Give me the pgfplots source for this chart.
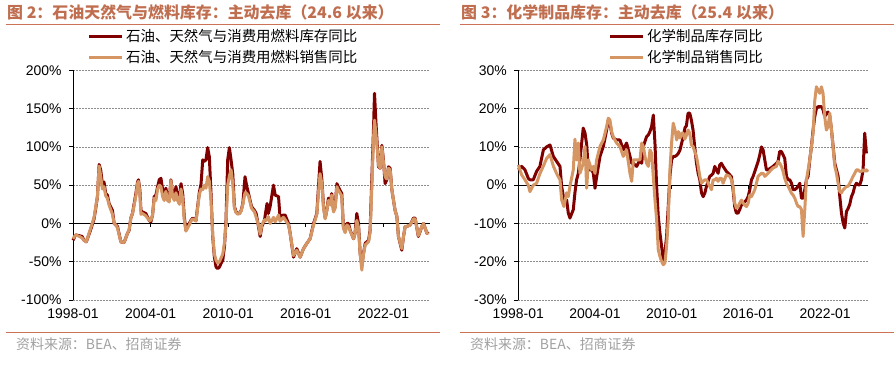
\documentclass[border=0pt]{standalone}
\usepackage{pgfplots}
\pgfplotsset{compat=1.18}
\usepackage{fontspec}
\setmainfont{Liberation Sans}
\newfontfamily\cjk{Noto Sans CJK SC}
\definecolor{darkred}{RGB}{128,0,0}
\definecolor{tanc}{RGB}{214,150,100}
\definecolor{titlec}{RGB}{192,110,80}
\definecolor{rulec}{RGB}{205,115,85}
\definecolor{srcgray}{RGB}{160,160,160}
\definecolor{gridc}{RGB}{140,140,140}

\pgfplotstableread{
x y
1998.0 -22
1998.2 -15
1998.5 -16
1998.7 -17
1998.85 -22
1999.03 -24
1999.37 -8
1999.63 6
1999.76 20
1999.89 35
2000.02 77
2000.14 70
2000.27 52
2000.40 54
2000.53 39
2000.66 37
2000.79 26
2001.05 17
2001.18 0
2001.31 -2
2001.44 -4
2001.70 -24
2001.95 -25
2002.21 -13
2002.34 -9
2002.47 7
2002.60 13
2002.73 26
2002.86 39
2002.99 54
2003.06 57
2003.17 44
2003.25 17
2003.37 15
2003.63 13
2003.89 4
2004.02 2
2004.15 11
2004.28 35
2004.41 37
2004.54 48
2004.67 57
2004.80 59
2004.93 44
2005.05 39
2005.18 46
2005.31 35
2005.44 30
2005.57 57
2005.70 39
2005.83 35
2005.96 48
2006.09 35
2006.22 30
2006.35 52
2006.48 39
2006.60 9
2006.73 -9
2006.86 -4
2006.99 0
2007.12 4
2007.25 7
2007.51 4
2007.77 41
2007.90 52
2008.03 83
2008.16 81
2008.28 83
2008.41 99
2008.54 87
2008.67 39
2008.80 -17
2008.93 -44
2009.06 -57
2009.19 -59
2009.32 -57
2009.45 -52
2009.58 -48
2009.71 -30
2009.83 4
2009.96 83
2010.09 99
2010.22 83
2010.35 65
2010.48 22
2010.61 15
2010.74 13
2010.87 13
2011.00 17
2011.13 26
2011.30 61
2011.44 48
2011.57 39
2011.80 22
2012.03 17
2012.16 13
2012.34 -4
2012.47 -17
2012.60 -4
2012.80 4
2013.0 26
2013.1 13
2013.24 22
2013.5 50
2013.63 37
2013.89 35
2014.0 9
2014.27 11
2014.4 11
2014.66 0
2014.79 -13
2015.05 -44
2015.3 -33
2015.56 -44
2015.82 -33
2016.08 -26
2016.33 -20
2016.6 0
2016.85 13
2016.98 48
2017.1 81
2017.24 57
2017.37 22
2017.5 7
2017.62 17
2017.75 33
2017.88 26
2018.0 39
2018.14 17
2018.27 22
2018.4 52
2018.5 48
2018.78 39
2018.9 -4
2019.04 -11
2019.17 0
2019.3 0
2019.43 -9
2019.69 -20
2019.8 -13
2019.94 13
2020.07 0
2020.2 -39
2020.33 -55
2020.46 -39
2020.59 -26
2020.85 -22
2020.97 -9
2021.1 57
2021.23 122
2021.31 170
2021.41 135
2021.62 74
2021.75 72
2021.88 102
2022.0 83
2022.13 52
2022.26 57
2022.39 74
2022.52 72
2022.65 44
2022.9 17
2023.04 9
2023.16 -17
2023.42 -35
2023.55 -17
2023.68 -4
2023.8 -4
2024.07 -2
2024.32 7
2024.45 7
2024.7 -17
2024.97 -4
2025.1 0
2025.36 -13
2025.48 -11
}\leftinv

\pgfplotstableread{
x y
1998.0 -20
1998.2 -15
1998.5 -17
1998.7 -19
1998.85 -22
1999.03 -24
1999.37 -6
1999.63 8
1999.76 22
1999.89 35
2000.02 75
2000.14 62
2000.27 45
2000.40 48
2000.53 36
2000.66 33
2000.79 24
2001.05 12
2001.18 0
2001.31 -2
2001.44 -6
2001.70 -24
2001.95 -25
2002.21 -13
2002.34 -8
2002.47 7
2002.60 13
2002.73 24
2002.86 36
2002.99 52
2003.06 55
2003.17 40
2003.25 12
2003.37 13
2003.63 10
2003.89 4
2004.02 4
2004.15 11
2004.28 33
2004.41 30
2004.54 45
2004.67 50
2004.80 48
2004.93 35
2005.05 30
2005.18 42
2005.31 30
2005.44 28
2005.57 56
2005.70 35
2005.83 30
2005.96 40
2006.09 30
2006.22 25
2006.35 45
2006.48 32
2006.60 5
2006.73 -10
2006.86 -6
2006.99 -2
2007.12 3
2007.25 6
2007.51 3
2007.77 38
2007.90 45
2008.03 44
2008.16 50
2008.28 46
2008.41 61
2008.54 55
2008.67 30
2008.80 -15
2008.93 -40
2009.06 -48
2009.19 -52
2009.32 -50
2009.45 -45
2009.58 -40
2009.71 -25
2009.83 0
2009.96 50
2010.09 62
2010.22 70
2010.35 52
2010.48 20
2010.61 14
2010.74 12
2010.87 13
2011.00 16
2011.13 25
2011.30 40
2011.44 39
2011.57 36
2011.80 20
2012.03 15
2012.16 8
2012.34 -2
2012.47 -14
2012.60 -2
2012.80 5
2013.0 4
2013.1 9
2013.24 0
2013.5 8
2013.63 2
2013.89 11
2014.0 3
2014.27 8
2014.4 5
2014.66 -2
2014.79 -13
2015.05 -42
2015.3 -35
2015.56 -44
2015.82 -33
2016.08 -26
2016.33 -20
2016.6 -2
2016.85 12
2016.98 40
2017.1 65
2017.24 52
2017.37 20
2017.5 6
2017.62 17
2017.75 30
2017.88 24
2018.0 37
2018.14 15
2018.27 20
2018.4 48
2018.5 44
2018.78 36
2018.9 -6
2019.04 -12
2019.17 -2
2019.3 -4
2019.43 -10
2019.69 -20
2019.8 -14
2019.94 4
2020.07 -5
2020.2 -40
2020.33 -61
2020.46 -40
2020.59 -28
2020.85 -24
2020.97 -12
2021.1 45
2021.23 110
2021.31 135
2021.41 120
2021.62 76
2021.75 72
2021.88 100
2022.0 80
2022.13 61
2022.26 58
2022.39 72
2022.52 70
2022.65 44
2022.9 17
2023.04 9
2023.16 -17
2023.42 -33
2023.55 -17
2023.68 -4
2023.8 -4
2024.07 -2
2024.32 6
2024.45 6
2024.7 -16
2024.97 -4
2025.1 0
2025.36 -13
2025.48 -12
}\leftsal

\pgfplotstableread{
x y
1998.0 4.0
1998.26 4.9
1998.52 4.0
1998.78 1.8
1998.91 1.4
1999.17 1.4
1999.43 3.6
1999.69 4.9
1999.96 9.2
2000.22 10.0
2000.48 10.5
2000.74 7.5
2001.0 6.2
2001.26 4.9
2001.39 -0.3
2001.57 -3.8
2001.78 -3.8
2001.91 -7.3
2002.04 -8.6
2002.30 -6.4
2002.43 -2.0
2002.56 1.4
2002.69 3.0
2002.82 6.6
2003.08 14.9
2003.22 13.6
2003.35 10.5
2003.48 4.0
2003.74 4.0
2003.87 3.1
2004.0 -0.8
2004.13 2.2
2004.39 7.5
2004.65 10.1
2004.91 14.4
2005.04 17.0
2005.17 16.2
2005.30 13.6
2005.43 12.3
2005.69 11.8
2005.95 11.8
2006.21 9.2
2006.47 11.0
2006.74 7.5
2006.87 5.7
2007.0 5.7
2007.26 4.9
2007.52 6.6
2007.65 5.7
2007.78 10.1
2007.91 11.4
2008.04 12.7
2008.17 13.1
2008.30 14.0
2008.43 15.3
2008.56 18.3
2008.69 11.0
2008.82 -0.3
2008.95 -8.2
2009.08 -12.5
2009.21 -16.0
2009.34 -19.5
2009.47 -17.7
2009.60 -13.4
2009.73 -5.6
2009.86 2.3
2009.99 6.6
2010.12 7.5
2010.26 7.5
2010.39 7.8
2010.52 8.3
2010.65 9.2
2010.78 11.0
2010.91 12.7
2011.04 15.0
2011.15 15.5
2011.28 18.8
2011.41 18.8
2011.54 17.0
2011.67 14.4
2011.80 10.0
2011.94 5.7
2012.07 3.1
2012.20 1.4
2012.33 -2.0
2012.46 -3.0
2012.59 -2.1
2012.72 -0.3
2012.98 2.3
2013.11 2.6
2013.24 3.1
2013.37 4.9
2013.50 4.0
2013.63 3.1
2013.76 5.3
2013.89 5.7
2014.02 4.9
2014.28 3.6
2014.54 2.7
2014.67 2.2
2014.80 -1.2
2014.93 -5.6
2015.06 -7.3
2015.19 -7.3
2015.32 -6.4
2015.45 -5.2
2015.59 -4.7
2015.72 -4.3
2015.85 -3.9
2015.98 -3.0
2016.11 -1.2
2016.24 1.4
2016.37 2.3
2016.50 3.6
2016.63 4.9
2016.76 6.2
2016.89 7.9
2017.02 10.0
2017.15 9.2
2017.28 6.6
2017.41 4.0
2017.54 4.0
2017.67 4.3
2017.93 4.9
2018.19 5.7
2018.32 6.2
2018.45 8.8
2018.58 8.8
2018.71 7.9
2018.84 7.0
2018.98 2.3
2019.11 1.4
2019.24 1.4
2019.37 0.5
2019.50 -1.2
2019.63 -1.2
2019.76 -0.8
2019.89 -0.3
2020.02 0.5
2020.15 -3.4
2020.28 -3.4
2020.41 -1.2
2020.54 1.4
2020.67 2.3
2020.80 6.6
2020.93 10.0
2021.06 14.4
2021.19 17.9
2021.32 20.0
2021.45 20.5
2021.58 20.5
2021.71 20.5
2021.84 19.7
2021.97 17.9
2022.10 18.8
2022.23 19.1
2022.37 17.9
2022.50 14.4
2022.63 10.0
2022.76 5.7
2022.89 4.0
2023.02 2.3
2023.15 -3.0
2023.28 -7.3
2023.41 -9.9
2023.54 -11.2
2023.67 -6.9
2023.80 -6.1
2023.93 -5.0
2024.06 -3.0
2024.19 -2.0
2024.32 -0.3
2024.45 0.5
2024.58 0.1
2024.71 0.1
2024.84 1.4
2024.97 4.0
2025.10 13.6
2025.23 8.3
}\rightinv

\pgfplotstableread{
x y
1998.0 5.3
1998.26 2.7
1998.52 1.4
1998.78 0.0
1998.91 -1.7
1999.17 0.0
1999.43 0.5
1999.69 3.0
1999.96 5.0
2000.22 7.0
2000.48 8.0
2000.74 5.0
2001.0 3.0
2001.26 1.4
2001.39 -3.8
2001.57 -5.6
2001.78 -2.0
2001.91 -3.0
2002.04 -0.3
2002.30 4.0
2002.43 12.0
2002.56 6.6
2002.69 11.0
2002.82 3.1
2003.08 5.7
2003.22 10.1
2003.35 -0.8
2003.48 6.6
2003.74 4.0
2003.87 4.9
2004.0 3.1
2004.13 6.6
2004.39 10.1
2004.65 11.8
2004.91 15.3
2005.04 17.5
2005.17 17.0
2005.30 14.0
2005.43 12.6
2005.69 11.0
2005.95 10.1
2006.21 7.5
2006.47 9.2
2006.74 3.0
2006.87 1.0
2007.0 6.6
2007.26 6.6
2007.52 6.6
2007.65 11.0
2007.78 10.1
2007.91 7.5
2008.04 5.7
2008.17 4.9
2008.30 9.2
2008.43 8.3
2008.56 2.3
2008.69 -3.8
2008.82 -9.0
2008.95 -16.9
2009.08 -18.6
2009.21 -19.9
2009.34 -20.8
2009.47 -20.3
2009.60 -16.0
2009.73 -9.0
2009.86 4.0
2009.99 11.0
2010.12 16.2
2010.26 14.4
2010.39 11.8
2010.52 14.0
2010.65 12.3
2010.78 13.6
2010.89 13.6
2011.02 12.0
2011.15 13.0
2011.28 14.4
2011.41 13.6
2011.54 10.5
2011.67 10.1
2011.80 8.8
2011.94 7.5
2012.07 5.0
2012.20 2.3
2012.33 0.5
2012.46 1.0
2012.59 1.4
2012.72 1.4
2012.98 -0.3
2013.11 -1.2
2013.24 1.4
2013.37 1.4
2013.50 1.8
2013.63 1.0
2013.76 1.8
2013.89 1.8
2014.02 0.5
2014.28 2.7
2014.54 2.3
2014.67 1.4
2014.80 -0.3
2014.93 -4.7
2015.06 -6.0
2015.19 -5.6
2015.32 -4.7
2015.45 -3.9
2015.59 -4.7
2015.72 -5.2
2015.85 -5.6
2015.98 -4.7
2016.11 -2.6
2016.24 -3.0
2016.37 -2.1
2016.50 -1.2
2016.63 0.5
2016.76 2.3
2016.89 2.7
2017.02 3.1
2017.15 3.1
2017.28 2.3
2017.41 2.7
2017.54 3.1
2017.67 3.6
2017.93 4.5
2018.19 4.9
2018.32 6.2
2018.45 5.7
2018.58 4.9
2018.71 3.6
2018.84 1.8
2018.98 0.5
2019.11 -0.3
2019.24 -1.2
2019.37 -2.1
2019.50 -2.6
2019.63 -3.4
2019.76 -4.7
2019.89 -5.6
2020.02 -5.6
2020.15 -6.4
2020.28 -13.4
2020.41 -6.4
2020.54 1.4
2020.67 4.0
2020.80 6.6
2020.93 10.0
2021.06 13.6
2021.19 22.0
2021.32 25.7
2021.45 24.8
2021.58 24.0
2021.71 25.7
2021.84 24.0
2021.97 17.9
2022.10 14.4
2022.23 15.3
2022.37 18.8
2022.50 14.4
2022.63 9.7
2022.76 4.9
2022.89 3.1
2023.02 0.5
2023.15 -1.7
2023.28 -2.0
2023.41 -1.2
2023.54 -0.8
2023.67 -0.3
2023.80 -0.3
2023.93 0.5
2024.06 1.4
2024.19 2.3
2024.32 3.1
2024.45 4.0
2024.58 4.0
2024.71 3.6
2024.84 3.6
2024.97 4.0
2025.10 3.6
2025.23 4.0
2025.36 3.5
}\rightsal

\pgfplotsset{
  myax/.style={
    scale only axis,
    height=229.7bp,
    xmin=1998,
    axis y line=left,
    axis x line=bottom,
    axis line style={-},
    x axis line style={draw=none},
    xtick={1998,2004,2010,2016,2022},
    xticklabels={1998-01,2004-01,2010-01,2016-01,2022-01},
    xtick style={draw=none},
    ytick style={black, line width=0.8bp},
    y axis line style={black, line width=0.9bp},
    tick align=outside,
    major tick length=4bp,
    ymajorgrids,
    major grid style={gridc, line width=0.7bp, dash pattern=on 2bp off 1bp},
    extra y ticks={0},
    extra y tick labels={},
    extra y tick style={grid=major, major grid style={black, solid, line width=0.9bp}, tick style={draw=none}},
    tick label style={font=\fontsize{14}{14}\selectfont},
    yticklabel style={xshift=-4bp},
    xticklabel style={yshift=-1bp},
    clip=false,
  },
  invl/.style={darkred, line width=3bp, line join=round},
  sall/.style={tanc, line width=3bp, line join=round},
}

\begin{document}
\begin{tikzpicture}
\useasboundingbox (0bp,0bp) rectangle (896bp,-365bp);

% titles and rules
\node[anchor=west, inner sep=0, text=titlec, font=\cjk\bfseries\fontsize{16}{16}\selectfont] at (7bp,-12bp) {图 2：石油天然气与燃料库存：主动去库（24.6 以来）};
\node[anchor=west, inner sep=0, text=titlec, font=\cjk\bfseries\fontsize{16}{16}\selectfont] at (461bp,-12bp) {图 3：化学制品库存：主动去库（25.4 以来）};
\draw[rulec, line width=1bp] (6bp,-24bp) -- (440bp,-24bp);
\draw[rulec, line width=1bp] (460bp,-24bp) -- (894bp,-24bp);
\draw[rulec, line width=1bp] (6bp,-332bp) -- (440bp,-332bp);
\draw[rulec, line width=1bp] (460bp,-332bp) -- (894bp,-332bp);
\node[anchor=west, inner sep=0, text=srcgray, font=\cjk\fontsize{14}{14}\selectfont] at (16bp,-344bp) {资料来源：BEA、招商证券};
\node[anchor=west, inner sep=0, text=srcgray, font=\cjk\fontsize{14}{14}\selectfont] at (470bp,-344bp) {资料来源：BEA、招商证券};

% legends
\draw[darkred, line width=3bp] (89bp,-36bp) -- (122bp,-36bp);
\node[anchor=west, inner sep=0, font=\cjk\fontsize{14.5}{14.5}\selectfont] at (126bp,-36bp) {石油、天然气与消费用燃料库存同比};
\draw[tanc, line width=3bp] (89bp,-57bp) -- (122bp,-57bp);
\node[anchor=west, inner sep=0, font=\cjk\fontsize{14.5}{14.5}\selectfont] at (126bp,-57bp) {石油、天然气与消费用燃料销售同比};
\draw[darkred, line width=3bp] (610bp,-36bp) -- (643bp,-36bp);
\node[anchor=west, inner sep=0, font=\cjk\fontsize{14.5}{14.5}\selectfont] at (647bp,-36bp) {化学制品库存同比};
\draw[tanc, line width=3bp] (610bp,-57bp) -- (643bp,-57bp);
\node[anchor=west, inner sep=0, font=\cjk\fontsize{14.5}{14.5}\selectfont] at (647bp,-57bp) {化学制品销售同比};

\begin{axis}[myax, at={(73bp,-300bp)}, anchor=south west, width=357bp,
  xmax=2025.6, ymin=-100, ymax=200,
  ytick={-100,-50,0,50,100,150,200},
  yticklabels={-100\%,-50\%,0\%,50\%,100\%,150\%,200\%}]
\addplot[invl] table {\leftinv};
\addplot[sall] table {\leftsal};
\pgfplotsinvokeforeach{2004,2010,2016,2022}{\draw[black, line width=0.8bp] (axis cs:#1,0) -- ++(0bp,-3.5bp);}
\end{axis}

\begin{axis}[myax, at={(518.3bp,-300bp)}, anchor=south west, width=350bp,
  xmax=2025.38, ymin=-30, ymax=30,
  ytick={-30,-20,-10,0,10,20,30},
  yticklabels={-30\%,-20\%,-10\%,0\%,10\%,20\%,30\%}]
\addplot[invl] table {\rightinv};
\addplot[sall] table {\rightsal};
\pgfplotsinvokeforeach{2004,2010,2016,2022}{\draw[black, line width=0.8bp] (axis cs:#1,0) -- ++(0bp,-3.5bp);}
\end{axis}
\end{tikzpicture}
\end{document}
